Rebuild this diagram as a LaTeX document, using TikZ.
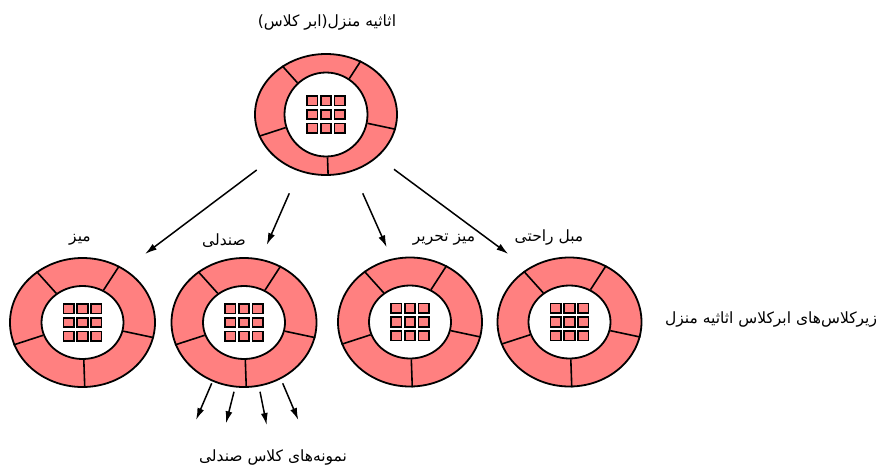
\documentclass[tikz,border=0pt]{standalone}
\usepackage{fontspec}
\newfontfamily\arabicfont[Script=Arabic]{DejaVu Sans}
\TeXXeTstate=1
\usetikzlibrary{shapes.geometric,arrows.meta}
\definecolor{ringpink}{RGB}{255,128,128}
\tikzset{
  outerring/.style={ellipse, draw, line width=1.8pt, fill=ringpink, inner sep=0pt},
  innerring/.style={ellipse, draw, line width=1.8pt, fill=white, inner sep=0pt},
  divider/.style={line width=1.6pt},
  cellbox/.style={draw, fill=ringpink, line width=1.7pt},
  link/.style={line width=1.5pt, -{Latex[length=12pt,width=7pt]}},
  lbl/.style={font=\arabicfont\fontsize{15.5}{18}\selectfont, inner sep=0pt}
}
\newcommand\furnring[7]{%
  \node[outerring, minimum width=#4pt, minimum height=#5pt] (#1) at (#2,#3) {};
  \node[innerring, minimum width=#6pt, minimum height=#7pt] (#1in) at (#2,#3) {};
  \foreach \a in {132,57,198,348,272} \draw[divider] (#1in.\a) -- (#1.\a);
  \begin{scope}[shift={(#1.center)}]
    \foreach \i in {-1,0,1} \foreach \j in {-1,0,1}
      \draw[cellbox] (\i*13.8-5.2,\j*13.8-4.7) rectangle +(10.4,9.4);
  \end{scope}
}
\begin{document}
\begin{tikzpicture}[x=1pt,y=-1pt]
\useasboundingbox (0,0) rectangle (885,468);
% rings
\furnring{sup}{326}{114.5}{142}{121}{83}{84}
\furnring{miz}{82.5}{322.5}{145}{129}{82}{73}
\furnring{sandali}{244}{322.5}{145}{129}{82}{73}
\furnring{tahrir}{410}{322}{144}{129}{82}{73}
\furnring{mobl}{569.5}{322}{144}{129}{82}{73}
% labels
\node[lbl] (tsup) at (327,23) {\beginR اثاثیه منزل(ابر کلاس)\endR};
\node[lbl] (tmiz) at (80,240) {\beginR میز\endR};
\node[lbl] (tsandali) at (224,241) {\beginR صندلی\endR};
\node[lbl] (ttahrir) at (444,240) {\beginR میز تحریر\endR};
\node[lbl] (tmobl) at (549,238) {\beginR مبل راحتی\endR};
\node[lbl] (tsub) at (771,320) {\beginR زیرکلاس‌های ابرکلاس اثاثیه منزل\endR};
\node[lbl] (tinst) at (273,457) {\beginR نمونه‌های کلاس صندلی\endR};
% arrow end points
\coordinate (s1) at (256.7,170);   \coordinate (e1) at (145,254);
\coordinate (s2) at (289.3,193.3); \coordinate (e2) at (266.7,245);
\coordinate (s3) at (362.7,193.3); \coordinate (e3) at (386.7,247.3);
\coordinate (s4) at (394,169.3);   \coordinate (e4) at (508.3,254);
\coordinate (b1s) at (211.7,383.3); \coordinate (b1e) at (196,420);
\coordinate (b2s) at (234,391.7);   \coordinate (b2e) at (226,423.3);
\coordinate (b3s) at (260,391.7);   \coordinate (b3e) at (266.7,425);
\coordinate (b4s) at (282.7,383.3); \coordinate (b4e) at (298.3,420);
\draw[link] (s1) -- (e1);
\draw[link] (s2) -- (e2);
\draw[link] (s3) -- (e3);
\draw[link] (s4) -- (e4);
\draw[link] (b1s) -- (b1e);
\draw[link] (b2s) -- (b2e);
\draw[link] (b3s) -- (b3e);
\draw[link] (b4s) -- (b4e);
\end{tikzpicture}
\end{document}
